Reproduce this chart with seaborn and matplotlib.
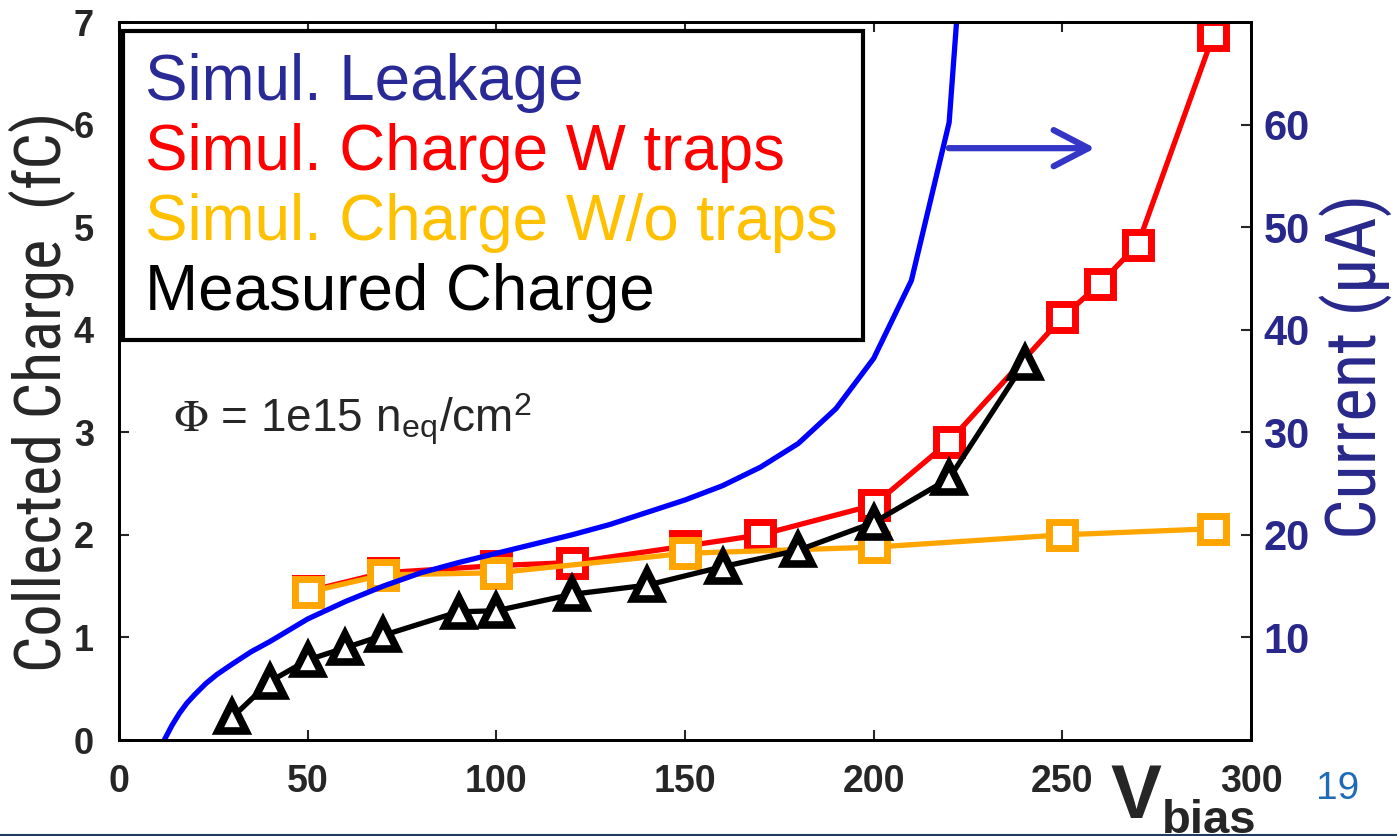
import matplotlib
matplotlib.use("Agg")
import matplotlib.pyplot as plt
import seaborn as sns
from matplotlib import font_manager
from matplotlib.patches import Rectangle
from matplotlib.lines import Line2D

# ---------------- data ----------------
v_meas = [30, 40, 50, 60, 70, 90, 100, 120, 140, 160, 180, 200, 220, 240]
q_meas = [0.22, 0.57, 0.78, 0.90, 1.02, 1.25, 1.26, 1.42, 1.51, 1.69, 1.85, 2.12, 2.55, 3.68]

v_trap = [50, 70, 100, 120, 150, 170, 200, 220, 250, 260, 270, 290]
q_trap = [1.45, 1.63, 1.70, 1.73, 1.89, 2.00, 2.29, 2.91, 4.12, 4.45, 4.83, 6.87]

v_notrap = [50, 70, 100, 150, 200, 250, 290]
q_notrap = [1.44, 1.61, 1.63, 1.82, 1.88, 2.00, 2.06]

v_leak = [12, 14, 16, 18, 20, 23, 26, 30, 35, 40, 50, 60, 70, 80, 90, 100, 110, 120,
          130, 140, 150, 160, 170, 180, 190, 200, 210, 220, 230]
i_leak = [0.0, 1.4, 2.6, 3.6, 4.4, 5.5, 6.4, 7.4, 8.6, 9.6, 11.8, 13.5, 15.0, 16.3,
          17.3, 18.2, 19.1, 20.0, 21.0, 22.2, 23.4, 24.8, 26.6, 28.9, 32.3, 37.2,
          44.8, 60.2, 110.0]

x_ticks = [0, 50, 100, 150, 200, 250, 300]
q_ticks = [0, 1, 2, 3, 4, 5, 6, 7]
i_ticks = [10, 20, 30, 40, 50, 60]

legend_labels = ["Simul. Leakage", "Simul. Charge W traps",
                 "Simul. Charge W/o traps", "Measured Charge"]
legend_colors = ["#2A2A96", "#FF0000", "#FFC000", "#000000"]


def find_narrow_font():
    prefs = ["liberation sans narrow", "arial narrow", "roboto condensed",
             "noto sans", "open sans", "dejavu sans"]
    found = []
    for f in font_manager.fontManager.ttflist:
        name = f.name.lower()
        fn = f.fname.lower()
        cond = ("narrow" in name or "narrow" in fn or "condensed" in name
                or "condensed" in fn or str(f.stretch) in ("condensed", "semi-condensed"))
        if not cond or "extra" in fn or "semi" in fn or "ultra" in fn:
            continue
        if f.style != "normal" or f.weight not in (400, "normal", "regular"):
            continue
        rank = len(prefs)
        for i, p in enumerate(prefs):
            if name.startswith(p):
                rank = i
                break
        found.append((rank, f.fname))
    if found:
        found.sort()
        return font_manager.FontProperties(fname=found[0][1])
    return font_manager.FontProperties(family="Liberation Sans")


sns.set_style("ticks")
plt.rcParams["font.family"] = ["Liberation Sans", "DejaVu Sans"]
NARROW_FP = find_narrow_font()

W, H = 1397, 836
fig = plt.figure(figsize=(W / 100, H / 100), dpi=100)
ax = fig.add_axes([119 / W, 1 - 740 / H, (1251 - 119) / W, 718 / H])
ax2 = ax.twinx()

line_kw = dict(markerfacecolor="white", legend=False)
sns.lineplot(x=v_trap, y=q_trap, ax=ax, color="#FF0000", linewidth=3.8, marker="s",
             markersize=18.5, markeredgewidth=5.0, markeredgecolor="#FF0000", **line_kw)
sns.lineplot(x=v_notrap, y=q_notrap, ax=ax, color="#FFA500", linewidth=3.8, marker="s",
             markersize=18.5, markeredgewidth=5.0, markeredgecolor="#FFA500", **line_kw)
sns.lineplot(x=v_meas, y=q_meas, ax=ax, color="#000000", linewidth=3.8, marker="^",
             markersize=19.5, markeredgewidth=5.5, markeredgecolor="#000000", **line_kw)
sns.lineplot(x=v_leak, y=i_leak, ax=ax2, color="#0000FF", linewidth=3.8, legend=False)

ax.set_xlim(0, 300)
ax.set_ylim(0, 7)
ax2.set_ylim(0, 70)
ax.set_xticks(x_ticks)
ax.set_yticks(q_ticks)
ax2.set_yticks(i_ticks)
ax.set_xlabel("")

for a in (ax, ax2):
    for s in a.spines.values():
        s.set_linewidth(2.0)
        s.set_color("black")
        s.set_visible(True)

ax.tick_params(axis="x", direction="in", length=7, width=1.5, top=True, labeltop=False,
               pad=17, labelsize=27)
ax.tick_params(axis="y", direction="in", length=7, width=1.5, right=False,
               pad=18, labelsize=26)
ax2.tick_params(axis="y", direction="in", length=7, width=1.5, pad=9,
                labelsize=30, labelcolor="#28288C")
for lab in ax.get_xticklabels() + ax.get_yticklabels() + ax2.get_yticklabels():
    lab.set_fontweight("bold")

ax.set_ylabel("Collected Charge  (fC)", fontproperties=NARROW_FP, fontsize=49)
ax.yaxis.label.set_va("center")
ax.yaxis.set_label_coords((42 - 119) / 1132, 0.485)
ax2.set_ylabel("Current (μA)", fontproperties=NARROW_FP, fontsize=49, color="#28288C")
ax2.yaxis.label.set_va("center")
ax2.yaxis.set_label_coords((1356 - 119) / 1132, 0.521)

# fit the rotated axis labels to the lengths they have in the original
renderer = fig.canvas.get_renderer()
for lbl, target in ((ax.yaxis.label, 560.0), (ax2.yaxis.label, 345.0)):
    for _ in range(3):
        ext = lbl.get_window_extent(renderer)
        lbl.set_fontsize(lbl.get_fontsize() * target / ext.height)

# legend box (text-only legend as in the original)
ax2.add_patch(Rectangle((0.0035, 0.557), 0.6535, 0.4305, transform=ax2.transAxes,
                        facecolor="white", edgecolor="black", linewidth=3.0, zorder=5))
for i, (lab, col) in enumerate(zip(legend_labels, legend_colors)):
    ax2.text((145 - 119) / 1132, (740 - (100 + 70 * i)) / 718, lab, color=col,
             fontsize=45.8, transform=ax2.transAxes, ha="left", va="baseline", zorder=6)

# fluence annotation
ax.text(14.3, 3.0, r"$\Phi$ = 1e15 n$_{\mathregular{eq}}$/cm$^{\mathregular{2}}$",
        fontsize=33, ha="left", va="baseline", math_fontfamily="stix")

# arrow pointing to the right axis
ax.annotate("", xy=(258.7, 5.77), xytext=(219.9, 5.77),
            arrowprops=dict(arrowstyle="->,head_length=1.25,head_width=0.65",
                            color="#3535C8", lw=4.5, mutation_scale=20,
                            capstyle="round", joinstyle="round",
                            shrinkA=0, shrinkB=0))

# V_bias axis title, slide number, footer line
fig.text(1110 / W, 1 - 818 / H, "V", fontsize=55, fontweight="bold", ha="left", va="baseline")
fig.text(1162 / W, 1 - 833 / H, "bias", fontsize=34, fontweight="bold", ha="left", va="baseline")
fig.text(1338 / W, 1 - 789 / H, "19", fontsize=28, color="#1E6BB8", ha="center", va="center")
fig.add_artist(Line2D([0, 1], [1 - 834.5 / H] * 2, transform=fig.transFigure,
                      color="#1F3A60", linewidth=2.2, zorder=10))

fig.savefig("out.png", dpi=100)
